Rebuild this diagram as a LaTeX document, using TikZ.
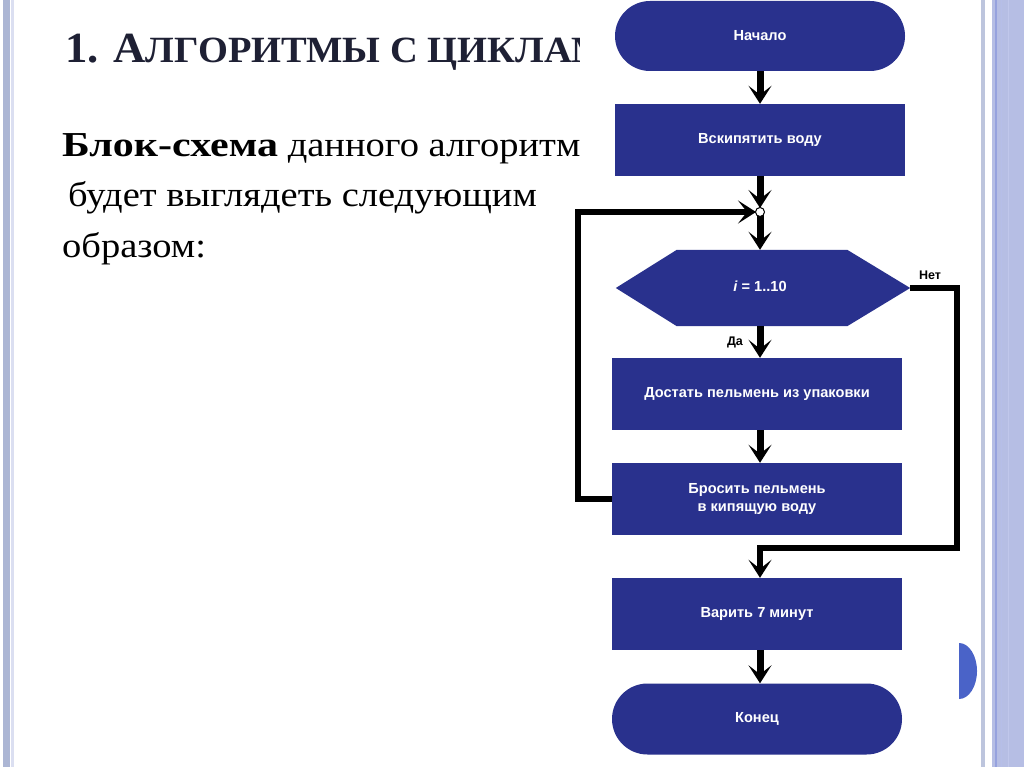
\documentclass[tikz,border=0pt]{standalone}
\usepackage{fontspec}
\setmainfont{Liberation Serif}
\setsansfont{Liberation Sans}
\newfontfamily\bodyfont[FakeStretch=1.1]{Liberation Serif}
\newfontfamily\boldbody[FakeStretch=1.2]{Liberation Serif Bold}
\newfontfamily\titlefont[FakeStretch=1.04]{Liberation Serif}
\usetikzlibrary{arrows.meta,calc}
\definecolor{fcblue}{RGB}{41,49,141}
\definecolor{stripeA}{RGB}{172,182,212}
\definecolor{stripeB}{RGB}{182,190,228}
\definecolor{stripeC}{RGB}{150,162,222}
\definecolor{dotblue}{RGB}{74,99,200}
\definecolor{titlecol}{RGB}{30,32,52}
\begin{document}
\begin{tikzpicture}[x=1pt,y=-1pt,
  blk/.style={fill=fcblue, draw=none, minimum width=290pt, minimum height=72pt, inner sep=0pt, text=white,
    font=\sffamily\bfseries\fontsize{14.6}{18}\selectfont, align=center},
  term/.style={blk, minimum height=70pt, rounded corners=35pt},
  arr/.style={line width=7pt, -{Stealth[length=18pt,width=23pt,inset=9pt]}},
  wire/.style={line width=5.5pt},
  lbl/.style={font=\sffamily\bfseries\fontsize{12.5}{14}\selectfont, inner sep=0pt},
  txt/.style={anchor=base west, inner sep=0pt, font=\bodyfont\fontsize{35}{40}\selectfont}]
\useasboundingbox (0,0) rectangle (1024,767);
\fill[white] (0,0) rectangle (1024,767);
% left border
\fill[stripeA] (3,0) rectangle (10,767);
\fill[stripeB!50] (11,0) rectangle (14,767);
% right border
\fill[stripeA!80] (981,0) rectangle (985,767);
\fill[stripeB] (992,0) rectangle (1024,767);
\fill[stripeC] (995,0) rectangle (997,767);
\fill[stripeC!70] (1001,0) rectangle (1002,767);
\fill[stripeC!60] (1008,0) rectangle (1009,767);
% blue half disc
\fill[dotblue] (959,643) arc[start angle=-90, end angle=90, x radius=18pt, y radius=-28pt] -- cycle;
% title and text
\begin{scope}
\clip (0,0) rectangle (579,300);
\node[anchor=base west, inner sep=0pt, text=titlecol, font=\titlefont\bfseries] (title) at (65,63)
  {\fontsize{43}{46}\selectfont 1. А\fontsize{37}{40}\selectfont ЛГОРИТМЫ С ЦИКЛАМИ};
\node[txt] (l1) at (62,157) {{\boldbody Блок-схема} данного алгоритм};
\end{scope}
\node[txt] (l2) at (68,207) {будет выглядеть следующим};
\node[txt] (l3) at (62,257) {образом:};
% flowchart
\node[term] (start) at (760,36) {Начало};
\node[blk] (boil) at (760,140) {Вскипятить воду};
\coordinate (j) at (760,212);
\node[minimum width=294pt, minimum height=76pt, inner sep=0pt] (cond) at (763,288) {};
\fill[fcblue] (cond.west) -- ($(cond.north west)+(61,0)$) -- ($(cond.north east)+(-63,0)$) -- (cond.east)
  -- ($(cond.south east)+(-63,0)$) -- ($(cond.south west)+(61,0)$) -- cycle;
\node[text=white, font=\sffamily\bfseries\fontsize{14.6}{18}\selectfont] (condt) at (760,286) {\textit{i} = 1..10};
\node[blk] (take) at (757,394) {Достать пельмень из упаковки};
\node[blk] (drop) at (757,499) {Бросить пельмень\\в кипящую воду};
\node[blk] (cook) at (757,614) {Варить 7 минут};
\node[term, minimum height=71pt, rounded corners=35.5pt] (end) at (757,719) {Конец};
\coordinate (lp) at (578,212);
\coordinate (nb) at (957,548);
% connectors
\draw[arr] (start) -- (boil);
\draw[arr] (boil.south) -- ($(j)+(0,-4)$);
\draw[arr] (j) -- (cond.north -| j);
\draw[arr] (cond.south -| j) -- (take.north -| j);
\draw[arr] (take.south -| j) -- (drop.north -| j);
\draw[wire, -{Stealth[length=18pt,width=23pt,inset=9pt]}, shorten >=4pt] (drop.west) -| (lp) -- (j);
\draw[wire, -{Stealth[length=18pt,width=23pt,inset=9pt]}] (cond.east) -| (nb) -| (cook.north -| j);
\draw[arr] (cook.south -| j) -- (end.north -| j);
\draw[fill=white, line width=1pt] (j) circle[radius=4.5pt];
\node[lbl] (no) at (930,275) {Нет};
\node[lbl] (yes) at (735,342) {Да};
\end{tikzpicture}
\end{document}
